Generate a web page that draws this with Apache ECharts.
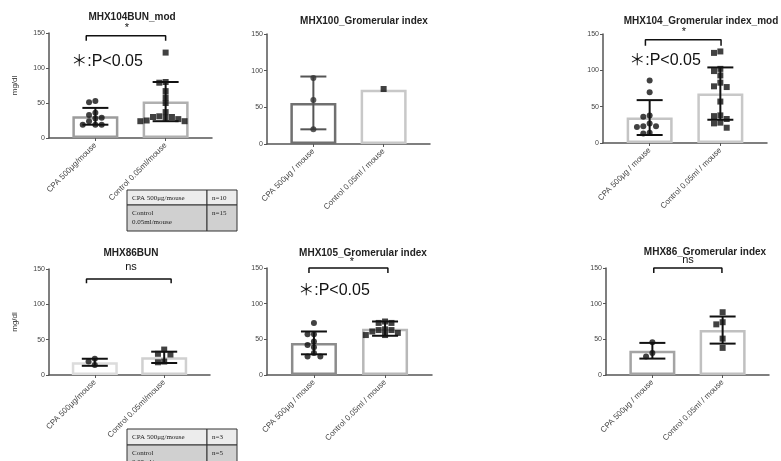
<!DOCTYPE html>
<html>
<head>
<meta charset="utf-8">
<script src="https://cdn.jsdelivr.net/npm/echarts@6/dist/echarts.min.js"></script>
<style>
  html, body { margin: 0; padding: 0; background: #fff; }
  #chart { width: 781px; height: 461px; }
</style>
</head>
<body>
<div id="chart"></div>
<script>
// group names on the x axes
const bunLabels = ['CPA 500μg/mouse', 'Control 0.05ml/mouse'];
const giLabels = ['CPA 500μg / mouse', 'Control 0.05ml / mouse'];
const yTicks = [0, 50, 100, 150];

const titles = ['MHX104BUN_mod', 'MHX100_Gromerular index', 'MHX104_Gromerular index_mod',
  'MHX86BUN', 'MHX105_Gromerular index', 'MHX86_Gromerular index'];
const sigMarks = ['*', '', '*', 'ns', '*', 'ns'];
const pNote = '＊:P<0.05';

// individual values per group, plus mean and SD [CPA, Control]
const bun104Cpa = [53, 51, 36, 33, 29, 28, 24, 19, 19, 19];
const bun104Ctl = [122, 80, 79, 67, 58, 50, 37, 31, 30, 30, 29, 27, 25, 24, 24];
const bun104Mean = [31, 52];
const bun104Sd = [12, 28];

const gi100Cpa = [90, 60, 20];
const gi100Ctl = [75];
const gi100Mean = [56, 74];
const gi100Sd = [36, 0];

const gi104Cpa = [86, 70, 38, 36, 27, 23, 23, 22, 14, 13];
const gi104Ctl = [126, 124, 102, 99, 93, 83, 78, 77, 57, 38, 37, 33, 28, 27, 21];
const gi104Mean = [35, 68];
const gi104Sd = [24, 36];

const bun86Cpa = [23, 19, 14];
const bun86Ctl = [36, 30, 29, 19, 18];
const bun86Mean = [18, 25];
const bun86Sd = [5, 8];

const gi105Cpa = [73, 57, 57, 47, 42, 39, 31, 26, 26];
const gi105Ctl = [75, 73, 73, 64, 63, 63, 61, 59, 56, 56];
const gi105Mean = [45, 65];
const gi105Sd = [16, 10];

const gi86Cpa = [46, 31, 26];
const gi86Ctl = [88, 74, 71, 51, 38];
const gi86Mean = [34, 63];
const gi86Sd = [11, 19];

// n tables under the BUN panels
const table104 = [['CPA 500μg/mouse', 'n=10'], ['Control\n0.05ml/mouse', 'n=15']];
const table86 = [['CPA 500μg/mouse', 'n=3'], ['Control\n0.05ml/mouse', 'n=5']];

const panels = [
  { labels: bunLabels, cpa: bun104Cpa, ctl: bun104Ctl, mean: bun104Mean, sd: bun104Sd },
  { labels: giLabels, cpa: gi100Cpa, ctl: gi100Ctl, mean: gi100Mean, sd: gi100Sd },
  { labels: giLabels, cpa: gi104Cpa, ctl: gi104Ctl, mean: gi104Mean, sd: gi104Sd },
  { labels: bunLabels, cpa: bun86Cpa, ctl: bun86Ctl, mean: bun86Mean, sd: bun86Sd },
  { labels: giLabels, cpa: gi105Cpa, ctl: gi105Ctl, mean: gi105Mean, sd: gi105Sd },
  { labels: giLabels, cpa: gi86Cpa, ctl: gi86Ctl, mean: gi86Mean, sd: gi86Sd },
];

// layout of each panel (pixels), bracket ends in axis units
const layout = [
  { grid: [49, 33, 163, 105], tx: 132, ty: 17, br: [-0.13, 1.0, 139, 146], sig: [127, 28], p: [107, 62],
    yName: true, border: ['#9c9c9c', '#b0b0b0'], err: ['#111', '#111'] },
  { grid: [267, 34, 163, 110], tx: 364, ty: 21, br: null, sig: null, p: null,
    yName: false, border: ['#707070', '#c8c8c8'], err: ['#555', '#111'] },
  { grid: [603, 34, 164, 109], tx: 701, ty: 21, br: [-0.06, 1.01, 134, 142], sig: [684, 32], p: [665, 61],
    yName: false, border: ['#c4c4c4', '#c8c8c8'], err: ['#111', '#111'] },
  { grid: [49, 269, 161, 106], tx: 131, ty: 253, br: [-0.12, 1.1, 130, 136], sig: [131, 267], p: null,
    yName: true, border: ['#dcdcdc', '#d0d0d0'], err: ['#111', '#111'] },
  { grid: [267, 268, 165, 107], tx: 363, ty: 253, br: [-0.07, 1.04, 143, 150], sig: [352, 262], p: [334, 291],
    yName: false, border: ['#8c8c8c', '#b8b8b8'], err: ['#111', '#111'] },
  { grid: [606, 268, 163, 107], tx: 705, ty: 252, br: [0.02, 0.99, 143, 150], sig: [688, 260], p: null,
    yName: false, border: ['#a4a4a4', '#c0c0c0'], err: ['#111', '#111'] },
];

const SANS = '"Liberation Sans", Arial, sans-serif';
const SERIF = '"Liberation Serif", "DejaVu Serif", serif';

// simple beeswarm: shift a point sideways until it no longer overlaps
function swarm(center, values) {
  const placed = [];
  const step = 0.09;
  return values.map(v => {
    let off = 0;
    for (let k = 0; k < 14; k++) {
      off = (k % 2 ? -1 : 1) * Math.ceil(k / 2) * step;
      const clear = placed.every(p => {
        const dx = (p[0] - off) * 70, dy = (p[1] - v) * 0.72;
        return dx * dx + dy * dy >= 30;
      });
      if (clear) break;
    }
    placed.push([off, v]);
    return [center + off, v];
  });
}

const grids = [], xAxes = [], yAxes = [], series = [], titleList = [], graphics = [];

panels.forEach((pn, i) => {
  const lay = layout[i];
  grids.push({ left: lay.grid[0], top: lay.grid[1], width: lay.grid[2], height: lay.grid[3] });
  xAxes.push({
    type: 'value', gridIndex: i, min: -0.66, max: 1.66,
    axisLine: { show: true, onZero: false, lineStyle: { color: '#555', width: 1.5 } },
    axisTick: { show: true, customValues: [0, 1], length: 3, lineStyle: { color: '#555' } },
    axisLabel: {
      customValues: [0, 1], rotate: 45, fontSize: 8, color: '#444', margin: 6, fontFamily: SANS,
      formatter: v => pn.labels[Math.round(v)]
    },
    splitLine: { show: false }
  });
  yAxes.push({
    type: 'value', gridIndex: i, min: yTicks[0], max: yTicks[yTicks.length - 1], interval: 50,
    name: lay.yName ? 'mg/dl' : '', nameLocation: 'middle', nameGap: 30, nameRotate: 90,
    nameTextStyle: { fontSize: 8, color: '#333', fontFamily: SANS },
    axisLine: { show: true, onZero: false, lineStyle: { color: '#555', width: 1.5 } },
    axisTick: { show: true, length: 3, lineStyle: { color: '#555' } },
    axisLabel: { fontSize: 7, color: '#444', margin: 4, fontFamily: SANS },
    splitLine: { show: false }
  });

  series.push({
    type: 'bar', xAxisIndex: i, yAxisIndex: i, barWidth: 46, z: 2,
    data: pn.mean.map((m, k) => ({
      value: [k, m],
      itemStyle: { color: '#fff', borderColor: lay.border[k], borderWidth: 2.5 }
    }))
  });

  series.push({
    type: 'custom', xAxisIndex: i, yAxisIndex: i, z: 3,
    encode: { x: 0, y: 1 },
    data: pn.mean.map((m, k) => [k, m, pn.sd[k]]),
    renderItem: (params, api) => {
      const x = api.value(0), m = api.value(1), s = api.value(2);
      if (!s) return null;
      const top = api.coord([x, m + s]), bot = api.coord([x, m - s]);
      const cap = 13;
      const style = { stroke: lay.err[x], lineWidth: 2 };
      return {
        type: 'group', children: [
          { type: 'line', shape: { x1: top[0], y1: top[1], x2: bot[0], y2: bot[1] }, style },
          { type: 'line', shape: { x1: top[0] - cap, y1: top[1], x2: top[0] + cap, y2: top[1] }, style },
          { type: 'line', shape: { x1: bot[0] - cap, y1: bot[1], x2: bot[0] + cap, y2: bot[1] }, style }
        ]
      };
    }
  });

  series.push({
    type: 'scatter', xAxisIndex: i, yAxisIndex: i, z: 4,
    data: swarm(0, pn.cpa), symbol: 'circle', symbolSize: 6,
    itemStyle: { color: i === 1 ? '#333' : '#111' }
  });
  series.push({
    type: 'scatter', xAxisIndex: i, yAxisIndex: i, z: 4,
    data: swarm(1, pn.ctl), symbol: 'rect', symbolSize: 6,
    itemStyle: { color: '#111' }
  });

  if (lay.br) {
    const [x0, x1, y0, y1] = lay.br;
    series.push({
      type: 'line', xAxisIndex: i, yAxisIndex: i, z: 5, clip: false, silent: true,
      data: [[x0, y0], [x0, y1], [x1, y1], [x1, y0]],
      symbol: 'none', lineStyle: { color: '#111', width: 1.5 }
    });
  }

  titleList.push({
    text: titles[i], left: lay.tx, top: lay.ty, padding: 0,
    textAlign: 'center', textVerticalAlign: 'middle',
    textStyle: { fontSize: 10, fontWeight: 'bold', color: '#222', fontFamily: SANS }
  });

  if (lay.sig) {
    graphics.push({
      type: 'text', x: lay.sig[0], y: lay.sig[1], z: 10,
      style: {
        text: sigMarks[i], font: '11px ' + SANS, fill: '#111',
        align: 'center', verticalAlign: 'middle', textAlign: 'center', textVerticalAlign: 'middle'
      }
    });
  }
  if (lay.p) {
    graphics.push({
      type: 'text', x: lay.p[0], y: lay.p[1], z: 10,
      style: {
        text: pNote, font: '16px "Liberation Sans", "Noto Sans CJK JP", sans-serif', fill: '#111',
        align: 'center', verticalAlign: 'middle', textAlign: 'center', textVerticalAlign: 'middle'
      }
    });
  }
});

// draw an n table as rectangles and text
function addTable(rows, x, y, colW, rowH) {
  const fills = ['#ececec', '#d0d0d0'];
  let top = y;
  rows.forEach((row, r) => {
    let left = x;
    row.forEach((cell, c) => {
      graphics.push({
        type: 'rect', z: 10,
        shape: { x: left, y: top, width: colW[c], height: rowH[r] },
        style: { fill: fills[r], stroke: '#333', lineWidth: 1 }
      });
      graphics.push({
        type: 'text', x: left + 5, y: top + 4, z: 11,
        style: {
          text: cell, font: '7px ' + SERIF, fill: '#222', lineHeight: 9,
          align: 'left', verticalAlign: 'top', textAlign: 'left', textVerticalAlign: 'top'
        }
      });
      left += colW[c];
    });
    top += rowH[r];
  });
}
addTable(table104, 127, 190, [80, 30], [15, 26]);
addTable(table86, 127, 429, [80, 30], [16, 24]);

const chart = echarts.init(document.getElementById('chart'));
chart.setOption({
  animation: false,
  backgroundColor: '#fff',
  title: titleList,
  grid: grids,
  xAxis: xAxes,
  yAxis: yAxes,
  series: series,
  graphic: { elements: graphics }
});
</script>
</body>
</html>
